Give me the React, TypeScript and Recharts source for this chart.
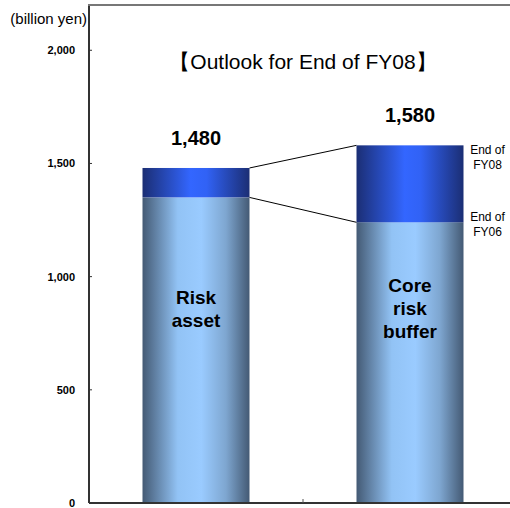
import { BarChart, Bar, XAxis, YAxis, LabelList } from "recharts";

// risk asset vs. core risk buffer, split into FY06 level and increase to FY08
const categories = ["Risk asset", "Core risk buffer"];
const fy06Values = [1350, 1240];
const fy08Increase = [130, 340];
const categoryLines = [["Risk", "asset"], ["Core", "risk", "buffer"]];
const periodLabels = [["End of", "FY06"], ["End of", "FY08"]];
const yTicks = [0, 500, 1000, 1500, 2000];
const yMax = 2200;

const data = categories.map((name, i) => ({
  name,
  base: fy06Values[i],
  added: fy08Increase[i],
}));

const FONT = "'Liberation Sans', Arial, sans-serif";
const CHART_W = 520;
const CHART_H = 508;
const MARGIN = { top: 5, right: 3, bottom: 0, left: 0 };
const Y_AXIS_W = 89;
const CATEGORY_GAP = 0.25;
const TICK_GAP = 14;
const NAME_LEVEL = 860; // value at which the category names sit

const fmt = (v: number) => v.toLocaleString("en-US");

const YTick = (props: any) => {
  const { x, y, payload } = props;
  const axisX = Number(x) + TICK_GAP;
  return (
    <g>
      <line x1={axisX} x2={axisX + 3} y1={y} y2={y} stroke="#333" />
      <text
        x={x}
        y={y}
        dy={4}
        textAnchor="end"
        fontSize={11}
        fontWeight="bold"
        fontFamily={FONT}
        fill="#000"
      >
        {fmt(payload.value)}
      </text>
    </g>
  );
};

// short tick on the boundary between the two categories
const XTick = (props: any) => {
  const { x, y, payload, index } = props;
  if (index >= categories.length - 1 || payload?.offset == null) return <g />;
  const bx = Number(x) + payload.offset;
  return <line x1={bx} x2={bx} y1={Number(y) - 4} y2={Number(y)} stroke="#555" />;
};

// upper segment, plus the connector lines running to the next bar
const AddedShape = (props: any) => {
  const { x, y, width, height, fill, index } = props;
  const next = index + 1;
  let connectors = null;
  if (next < categories.length && height > 0) {
    const ppu = height / fy08Increase[index];
    const zeroY = y + height + fy06Values[index] * ppu;
    const yOf = (v: number) => zeroY - v * ppu;
    const band = width / (1 - 2 * CATEGORY_GAP);
    const x1 = x + width;
    const x2 = x + band;
    connectors = (
      <g stroke="#000" strokeWidth={1}>
        <line x1={x1} y1={y} x2={x2} y2={yOf(fy06Values[next] + fy08Increase[next])} />
        <line x1={x1} y1={y + height} x2={x2} y2={yOf(fy06Values[next])} />
      </g>
    );
  }
  return (
    <g>
      <rect x={x} y={y} width={width} height={height} fill={fill} />
      {connectors}
    </g>
  );
};

const PeriodText = ({ x, y, lines }: { x: number; y: number; lines: string[] }) => (
  <text textAnchor="middle" fontSize={12} fontFamily={FONT} fill="#000">
    {lines.map((t, i) => (
      <tspan key={t} x={x} y={y + i * 15.5}>
        {t}
      </tspan>
    ))}
  </text>
);

const NameLabel = (props: any) => {
  const { index } = props;
  const x = Number(props.x);
  const y = Number(props.y);
  const width = Number(props.width);
  const height = Number(props.height);
  const ppu = height / fy06Values[index];
  const cy = y + height - NAME_LEVEL * ppu;
  const lines = categoryLines[index];
  const last = index === categories.length - 1;
  return (
    <g>
      <text textAnchor="middle" fontSize={19} fontWeight="bold" fontFamily={FONT} fill="#000">
        {lines.map((t, i) => (
          <tspan key={t} x={x + width / 2} y={cy + (i - (lines.length - 1) / 2) * 23 + 7}>
            {t}
          </tspan>
        ))}
      </text>
      {last && <PeriodText x={x + width + 24} y={y - 1.5} lines={periodLabels[0]} />}
    </g>
  );
};

const TotalLabel = (props: any) => {
  const { index } = props;
  const x = Number(props.x);
  const y = Number(props.y);
  const width = Number(props.width);
  const total = fy06Values[index] + fy08Increase[index];
  const last = index === categories.length - 1;
  return (
    <g>
      <text
        x={x + width / 2}
        y={y - 23}
        textAnchor="middle"
        fontSize={20}
        fontWeight="bold"
        fontFamily={FONT}
        fill="#000"
      >
        {fmt(total)}
      </text>
      {last && <PeriodText x={x + width + 24} y={y + 8.5} lines={periodLabels[1]} />}
    </g>
  );
};

export default function App() {
  const plotLeft = MARGIN.left + Y_AXIS_W;
  const plotRight = CHART_W - MARGIN.right;
  return (
    <div style={{ position: "absolute", left: 0, top: 0, width: 510, height: 508, overflow: "hidden", background: "#fff" }}>
      <BarChart
        width={CHART_W}
        height={CHART_H}
        data={data}
        margin={MARGIN}
        barCategoryGap={`${CATEGORY_GAP * 100}%`}
      >
        <defs>
          <linearGradient id="fy06Fill" x1="0" y1="0" x2="1" y2="0">
            <stop offset="0" stopColor="#445a74" />
            <stop offset="0.33" stopColor="#92c3f5" />
            <stop offset="0.55" stopColor="#9acbff" />
            <stop offset="0.78" stopColor="#7ea6d0" />
            <stop offset="1" stopColor="#445a74" />
          </linearGradient>
          <linearGradient id="fy08Fill" x1="0" y1="0" x2="1" y2="0">
            <stop offset="0" stopColor="#1b2e74" />
            <stop offset="0.45" stopColor="#3366ff" />
            <stop offset="0.6" stopColor="#3162f5" />
            <stop offset="1" stopColor="#1b2e74" />
          </linearGradient>
        </defs>
        <XAxis
          dataKey="name"
          height={5}
          tickSize={0}
          tickMargin={0}
          tickLine={false}
          axisLine={{ stroke: "#333", strokeWidth: 2 }}
          tick={<XTick />}
          interval={0}
        />
        <YAxis
          width={Y_AXIS_W}
          domain={[0, yMax]}
          ticks={yTicks}
          allowDataOverflow
          tickSize={0}
          tickMargin={TICK_GAP}
          tickLine={false}
          axisLine={{ stroke: "#333", strokeWidth: 2 }}
          tick={<YTick />}
          interval={0}
        />
        <Bar dataKey="base" stackId="a" fill="url(#fy06Fill)" isAnimationActive={false}>
          <LabelList dataKey="base" content={<NameLabel />} />
        </Bar>
        <Bar dataKey="added" stackId="a" fill="url(#fy08Fill)" shape={<AddedShape />} isAnimationActive={false}>
          <LabelList dataKey="added" content={<TotalLabel />} />
        </Bar>
        <text x={87} y={24} textAnchor="end" fontSize={15} fontFamily={FONT} fill="#000">
          (billion yen)
        </text>
        <text x={303} y={69} textAnchor="middle" fontSize={21} fontFamily={FONT} fill="#000">
          【Outlook for End of FY08】
        </text>
      </BarChart>
      {/* grey frame line along the top of the plot */}
      <div
        style={{
          position: "absolute",
          left: plotLeft - 1,
          top: MARGIN.top - 1,
          width: plotRight - plotLeft + 1,
          height: 2,
          background: "#777",
        }}
      />
    </div>
  );
}
